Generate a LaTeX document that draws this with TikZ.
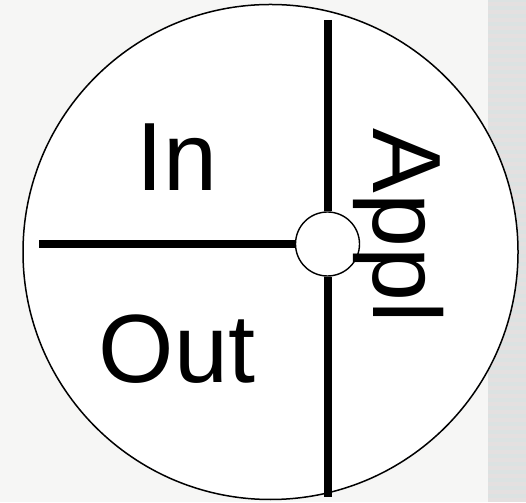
\documentclass[tikz,border=0pt]{standalone}
\usepackage{fontspec}
\setmainfont{Liberation Sans}
\usetikzlibrary{positioning, calc}
\definecolor{bgpale}{HTML}{F6F6F5}
\definecolor{bgband}{HTML}{DCE2E2}
\definecolor{bgstripe}{HTML}{E4E0E0}

\begin{document}
\begin{tikzpicture}[x=1pt, y=1pt,
  bar/.style={line width=8pt},
  part/.style={font=\fontsize{97}{100}\selectfont, anchor=base, inner sep=0pt}]

  % --- background with the striped band on the right ---
  \useasboundingbox (0,0) rectangle (526,502);
  \fill[bgpale] (0,0) rectangle (526,502);
  \fill[bgband] (488,0) rectangle (526,502);
  \foreach \y in {0,8,...,496}
    \fill[bgstripe] (488,\y) rectangle (526,\y+4);

  % --- the disc ---
  \node[circle, draw, line width=1.5pt, fill=white, minimum size=495pt, inner sep=0pt]
    (disc) at (270.5,250) {};

  % --- dividers meeting at the hub ---
  \coordinate (top) at (327.5,482);
  \coordinate (bottom) at (327.5,5);
  \coordinate (left) at (39,258);
  \node[circle, draw, line width=1.4pt, fill=white, minimum size=64pt, inner sep=0pt]
    (hub) at (327.5,258) {};
  \draw[bar] (top) -- (hub.north);
  \draw[bar] (hub.south) -- (bottom);
  \draw[bar] (left) -- (hub.west);

  % --- labels ---
  \node[part] (in) at (177,311) {In};
  \node[part] (out) at (177,119) {Out};
  \node[part, rotate=-90] (appl) at (373,276) {Appl};
\end{tikzpicture}
\end{document}
